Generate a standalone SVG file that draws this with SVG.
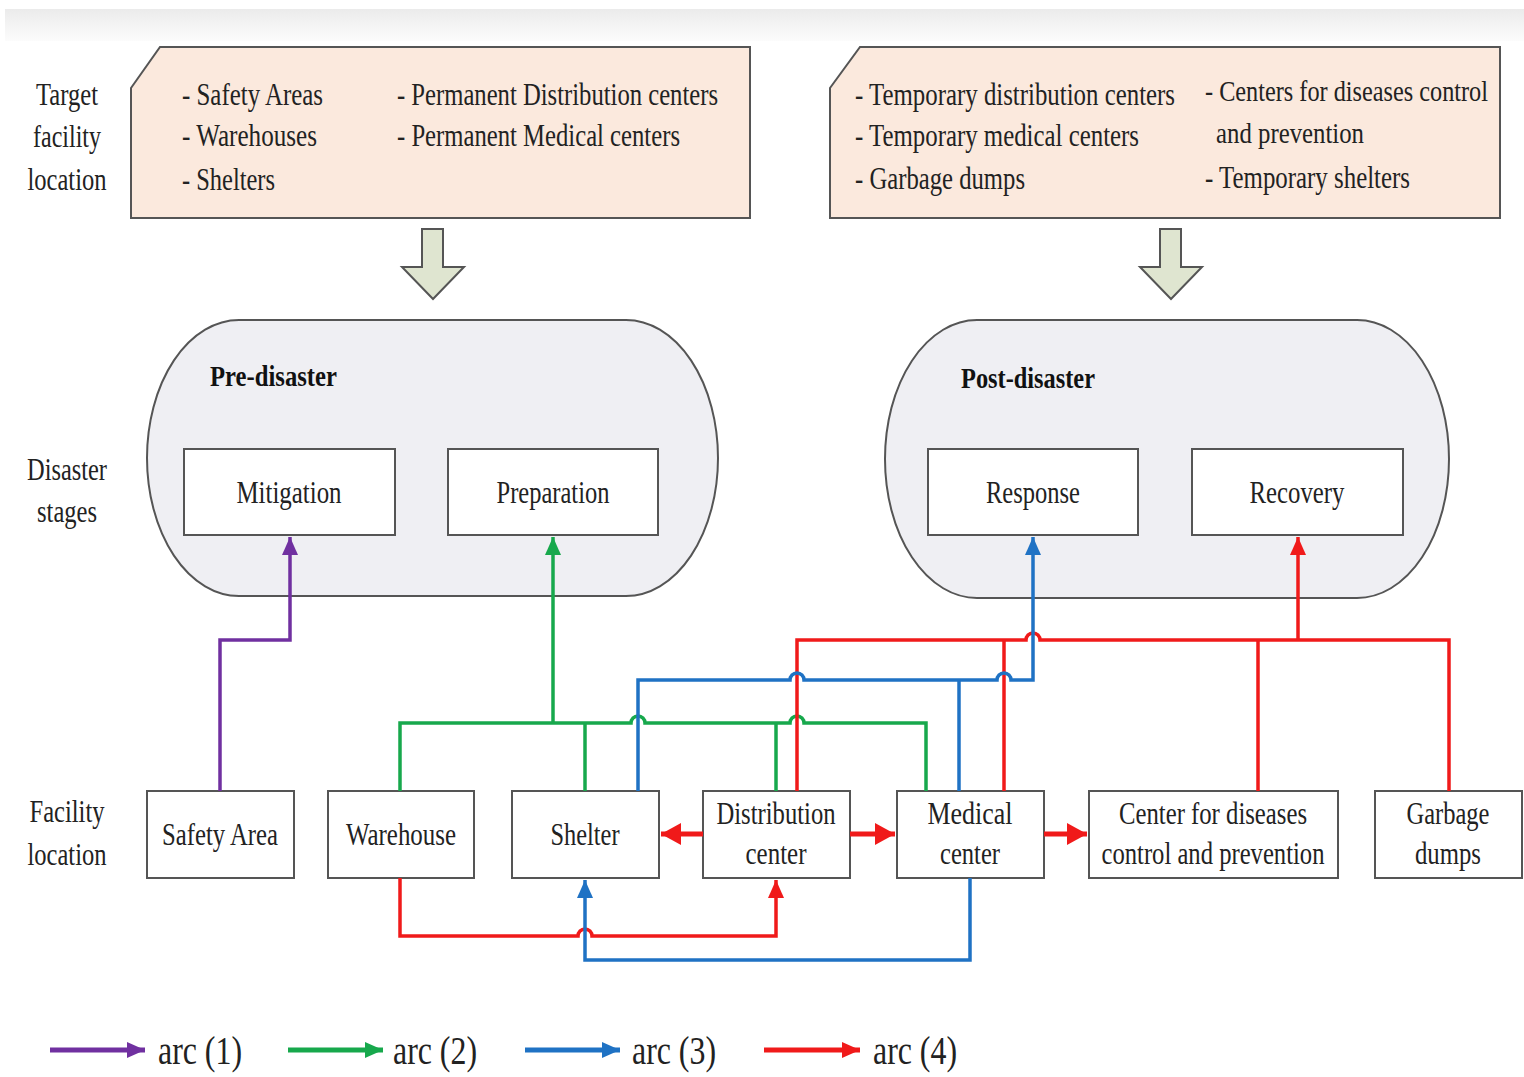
<svg xmlns="http://www.w3.org/2000/svg" width="1524" height="1077" viewBox="0 0 1524 1077">
<defs>
<linearGradient id="topbar" x1="0" y1="0" x2="0" y2="1">
<stop offset="0" stop-color="#ebebeb"/>
<stop offset="1" stop-color="#fcfcfc"/>
</linearGradient>
<marker id="aP" markerUnits="userSpaceOnUse" markerWidth="20" markerHeight="16" refX="18" refY="8" orient="auto"><path d="M0,0 L18,8 L0,16 z" fill="#7030a0"/></marker>
<marker id="aG" markerUnits="userSpaceOnUse" markerWidth="20" markerHeight="16" refX="18" refY="8" orient="auto"><path d="M0,0 L18,8 L0,16 z" fill="#17a84c"/></marker>
<marker id="aB" markerUnits="userSpaceOnUse" markerWidth="20" markerHeight="16" refX="18" refY="8" orient="auto"><path d="M0,0 L18,8 L0,16 z" fill="#1f72c4"/></marker>
<marker id="aR" markerUnits="userSpaceOnUse" markerWidth="20" markerHeight="16" refX="18" refY="8" orient="auto"><path d="M0,0 L18,8 L0,16 z" fill="#f01a1a"/></marker>
<marker id="aRb" markerUnits="userSpaceOnUse" markerWidth="22" markerHeight="22" refX="20" refY="11" orient="auto"><path d="M0,0 L20,11 L0,22 z" fill="#f01a1a"/></marker>
</defs>
<style>
text{font-family:"Liberation Serif","Times New Roman",serif;fill:#222;font-size:32px}
.c{text-anchor:middle}
.s{font-size:29px}
.b{font-weight:bold;fill:#111;font-size:30px}
.box{fill:#ffffff;stroke:#555;stroke-width:2}
.top{fill:#fbe9dd;stroke:#555;stroke-width:2}
.stage{fill:#efeff3;stroke:#555;stroke-width:2}
.blk{fill:#dfe5d0;stroke:#555;stroke-width:2}
.ln{fill:none;stroke-width:3.5;stroke-linejoin:miter}
.p{stroke:#7030a0}.g{stroke:#17a84c}.bl{stroke:#1f72c4}.r{stroke:#f01a1a}
.thick{stroke-width:5}
.leg{font-size:40px}
</style>
<rect x="5" y="9" width="1519" height="32" fill="url(#topbar)"/>

<g id="label-target">
<text class="c" x="67" y="105" textLength="62" lengthAdjust="spacingAndGlyphs">Target</text>
<text class="c" x="67" y="147" textLength="68" lengthAdjust="spacingAndGlyphs">facility</text>
<text class="c" x="67" y="190" textLength="79" lengthAdjust="spacingAndGlyphs">location</text>
</g>
<g id="label-stages">
<text class="c" x="67" y="480" textLength="80" lengthAdjust="spacingAndGlyphs">Disaster</text>
<text class="c" x="67" y="522" textLength="60" lengthAdjust="spacingAndGlyphs">stages</text>
</g>
<g id="label-facility">
<text class="c" x="67" y="822" textLength="75" lengthAdjust="spacingAndGlyphs">Facility</text>
<text class="c" x="67" y="865" textLength="79" lengthAdjust="spacingAndGlyphs">location</text>
</g>

<g id="pre-targets">
<path class="top" d="M160,47 H750 V218 H131 V88 Z"/>
<text x="182" y="105" textLength="141" lengthAdjust="spacingAndGlyphs">- Safety Areas</text>
<text x="182" y="146" textLength="135" lengthAdjust="spacingAndGlyphs">- Warehouses</text>
<text x="182" y="190" textLength="93" lengthAdjust="spacingAndGlyphs">- Shelters</text>
<text x="397" y="105" textLength="321" lengthAdjust="spacingAndGlyphs">- Permanent Distribution centers</text>
<text x="397" y="146" textLength="283" lengthAdjust="spacingAndGlyphs">- Permanent Medical centers</text>
</g>
<g id="post-targets">
<path class="top" d="M860,47 H1500 V218 H830 V88 Z"/>
<text x="855" y="105" textLength="320" lengthAdjust="spacingAndGlyphs">- Temporary distribution centers</text>
<text x="855" y="146" textLength="284" lengthAdjust="spacingAndGlyphs">- Temporary medical centers</text>
<text x="855" y="189" textLength="170" lengthAdjust="spacingAndGlyphs">- Garbage dumps</text>
<text class="s" x="1205" y="101" textLength="283" lengthAdjust="spacingAndGlyphs">- Centers for diseases control</text>
<text class="s" x="1216" y="143" textLength="148" lengthAdjust="spacingAndGlyphs">and prevention</text>
<text x="1205" y="188" textLength="205" lengthAdjust="spacingAndGlyphs">- Temporary shelters</text>
</g>

<g id="arrow-pre">
<path class="blk" d="M422,229 H443 V267 H464 L433,299 L402,267 H422 Z"/>
</g>
<g id="arrow-post">
<path class="blk" d="M1160,229 H1181 V267 H1202 L1171,299 L1140,267 H1160 Z"/>
</g>

<g id="pre-disaster">
<rect class="stage" x="147" y="320" width="571" height="276" rx="92" ry="138"/>
<text class="b" x="210" y="386" textLength="127" lengthAdjust="spacingAndGlyphs">Pre-disaster</text>
</g>
<g id="mitigation">
<rect class="box" x="184" y="449" width="211" height="86"/>
<text class="c" x="289" y="503" textLength="105" lengthAdjust="spacingAndGlyphs">Mitigation</text>
</g>
<g id="preparation">
<rect class="box" x="448" y="449" width="210" height="86"/>
<text class="c" x="553" y="503" textLength="113" lengthAdjust="spacingAndGlyphs">Preparation</text>
</g>
<g id="post-disaster">
<rect class="stage" x="885" y="320" width="564" height="278" rx="92" ry="139"/>
<text class="b" x="961" y="388" textLength="134" lengthAdjust="spacingAndGlyphs">Post-disaster</text>
</g>
<g id="response">
<rect class="box" x="928" y="449" width="210" height="86"/>
<text class="c" x="1033" y="503" textLength="94" lengthAdjust="spacingAndGlyphs">Response</text>
</g>
<g id="recovery">
<rect class="box" x="1192" y="449" width="211" height="86"/>
<text class="c" x="1297" y="503" textLength="95" lengthAdjust="spacingAndGlyphs">Recovery</text>
</g>

<g id="safety-area">
<rect class="box" x="147" y="791" width="147" height="87"/>
<text class="c" x="220" y="845" textLength="116" lengthAdjust="spacingAndGlyphs">Safety Area</text>
</g>
<g id="warehouse">
<rect class="box" x="328" y="791" width="146" height="87"/>
<text class="c" x="401" y="845" textLength="110" lengthAdjust="spacingAndGlyphs">Warehouse</text>
</g>
<g id="shelter">
<rect class="box" x="512" y="791" width="147" height="87"/>
<text class="c" x="585" y="845" textLength="69" lengthAdjust="spacingAndGlyphs">Shelter</text>
</g>
<g id="distribution-center">
<rect class="box" x="703" y="791" width="147" height="87"/>
<text class="c" x="776" y="824" textLength="119" lengthAdjust="spacingAndGlyphs">Distribution</text>
<text class="c" x="776" y="864" textLength="61" lengthAdjust="spacingAndGlyphs">center</text>
</g>
<g id="medical-center">
<rect class="box" x="897" y="791" width="147" height="87"/>
<text class="c" x="970" y="824" textLength="85" lengthAdjust="spacingAndGlyphs">Medical</text>
<text class="c" x="970" y="864" textLength="60" lengthAdjust="spacingAndGlyphs">center</text>
</g>
<g id="cdc">
<rect class="box" x="1089" y="791" width="249" height="87"/>
<text class="c" x="1213" y="824" textLength="188" lengthAdjust="spacingAndGlyphs">Center for diseases</text>
<text class="c" x="1213" y="864" textLength="223" lengthAdjust="spacingAndGlyphs">control and prevention</text>
</g>
<g id="garbage-dumps">
<rect class="box" x="1375" y="791" width="147" height="87"/>
<text class="c" x="1448" y="824" textLength="83" lengthAdjust="spacingAndGlyphs">Garbage</text>
<text class="c" x="1448" y="864" textLength="66" lengthAdjust="spacingAndGlyphs">dumps</text>
</g>

<g id="connectors">
<path class="ln p" d="M220,791 V640 H290 V537" marker-end="url(#aP)"/>

<path class="ln g" d="M553,723 V537" marker-end="url(#aG)"/>
<path class="ln g" d="M400,791 V723 H631 A7,7 0 0 1 645,723 H790 A7,7 0 0 1 804,723 H926 V791"/>
<path class="ln g" d="M585,723 V791"/>
<path class="ln g" d="M776,723 V791"/>

<path class="ln r" d="M797,791 V640 H1026 A7,7 0 0 1 1040,640 H1449 V791"/>
<path class="ln r" d="M1004,640 V791"/>
<path class="ln r" d="M1258,640 V791"/>
<path class="ln r" d="M1298,640 V537" marker-end="url(#aR)"/>

<path class="ln bl" d="M638,791 V680 H790 A7,7 0 0 1 804,680 H997 A7,7 0 0 1 1011,680 H1033 V537" marker-end="url(#aB)"/>
<path class="ln bl" d="M959,680 V791"/>

<path class="ln r" d="M400,878 V936 H578 A7,7 0 0 1 592,936 H776 V880" marker-end="url(#aR)"/>
<path class="ln bl" d="M970,878 V960 H585 V880" marker-end="url(#aB)"/>

<path class="ln r thick" d="M703,834 H661" marker-end="url(#aRb)"/>
<path class="ln r thick" d="M850,834 H895" marker-end="url(#aRb)"/>
<path class="ln r thick" d="M1044,834 H1087" marker-end="url(#aRb)"/>
</g>

<g id="legend">
<path class="ln p thick" d="M50,1050 H145" marker-end="url(#aP)"/>
<text class="leg" x="158" y="1064" textLength="84" lengthAdjust="spacingAndGlyphs">arc (1)</text>
<path class="ln g thick" d="M288,1050 H383" marker-end="url(#aG)"/>
<text class="leg" x="393" y="1064" textLength="84" lengthAdjust="spacingAndGlyphs">arc (2)</text>
<path class="ln bl thick" d="M525,1050 H620" marker-end="url(#aB)"/>
<text class="leg" x="632" y="1064" textLength="84" lengthAdjust="spacingAndGlyphs">arc (3)</text>
<path class="ln r thick" d="M764,1050 H860" marker-end="url(#aR)"/>
<text class="leg" x="873" y="1064" textLength="84" lengthAdjust="spacingAndGlyphs">arc (4)</text>
</g>
</svg>
